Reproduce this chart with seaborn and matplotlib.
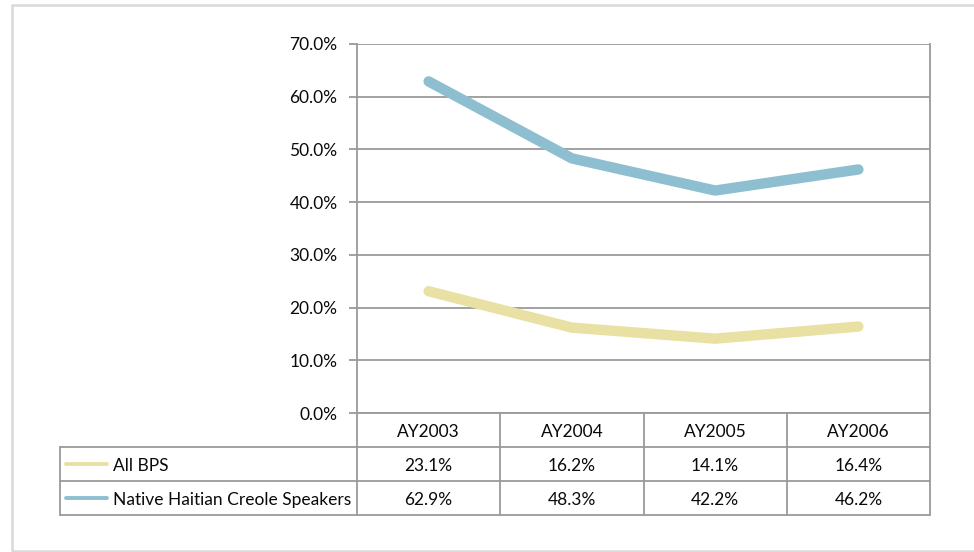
import seaborn as sns
import matplotlib.pyplot as plt
import pandas as pd
from matplotlib.patches import Rectangle

# data
years = ["AY2003", "AY2004", "AY2005", "AY2006"]
all_bps = [23.1, 16.2, 14.1, 16.4]
haitian = [62.9, 48.3, 42.2, 46.2]
series_names = ["All BPS", "Native Haitian Creole Speakers"]
series_colors = ["#E9E1A3", "#8EBFD0"]
y_ticks = [0, 10, 20, 30, 40, 50, 60, 70]

df = pd.DataFrame({
    "year": years * 2,
    "pos": list(range(len(years))) * 2,
    "value": all_bps + haitian,
    "series": [series_names[0]] * 4 + [series_names[1]] * 4,
})

sns.set_theme(style="white")
plt.rcParams['font.family'] = ['Lato', 'DejaVu Sans']
fs = 12.5
txt_c = "#0A0A0A"

W, H = 974, 552
fig = plt.figure(figsize=(W / 100, H / 100), dpi=100)
grid_c = "#9A9A9A"

# outer frame
fig.add_artist(Rectangle((12 / W, 1 - 551 / H), 1.0, (551 - 5) / H,
                         transform=fig.transFigure, fill=False,
                         edgecolor="#D9D9D9", linewidth=1.8))

# main plot area
x0, x1, ytop, ybot = 357, 930, 44, 413
ax = fig.add_axes([x0 / W, 1 - ybot / H, (x1 - x0) / W, (ybot - ytop) / H])
sns.lineplot(data=df, x="pos", y="value", hue="series", palette=series_colors,
             linewidth=7.5, legend=False, ax=ax, solid_capstyle="round")
ax.set_xlim(-0.5, len(years) - 0.5)
ax.set_ylim(0, 70)
ax.set_yticks(y_ticks)
ax.set_yticklabels([f"{t:.1f}%" for t in y_ticks], fontsize=fs)
ax.set_xticks([])
ax.set_xlabel("")
ax.set_ylabel("")
ax.grid(axis="y", color=grid_c, linewidth=1.3)
ax.set_axisbelow(True)
for s in ["left", "right", "bottom", "top"]:
    ax.spines[s].set_visible(s in ("left", "right", "bottom"))
    ax.spines[s].set_color(grid_c)
    ax.spines[s].set_linewidth(1.3)
ax.tick_params(axis="y", left=True, length=6, width=1.3, color=grid_c, pad=8,
               labelcolor=txt_c)

# data table below the plot
tx0, tbot = 60, 515
col_w = (x1 - x0) / len(years)
label_w = (x0 - tx0) / col_w
tab = fig.add_axes([tx0 / W, 1 - tbot / H, (x1 - tx0) / W, (tbot - ybot) / H])
tab.set_xlim(-0.5 - label_w, len(years) - 0.5)
tab.set_ylim(3, 0)
tab.axis("off")
lw = 1.3
left_edge = -0.5 - label_w
right_edge = len(years) - 0.5
# horizontal lines
for yy in [1, 2, 3]:
    tab.plot([left_edge, right_edge], [yy, yy], color=grid_c, lw=lw, clip_on=False)
# vertical lines
tab.plot([left_edge, left_edge], [1, 3], color=grid_c, lw=lw, clip_on=False)
for i in range(len(years) + 1):
    tab.plot([i - 0.5, i - 0.5], [0, 3], color=grid_c, lw=lw, clip_on=False)

for i, yr in enumerate(years):
    tab.text(i, 0.55, yr, ha="center", va="center", fontsize=fs, color=txt_c)
rows = [all_bps, haitian]
for r, (name, vals, c) in enumerate(zip(series_names, rows, series_colors)):
    yy = r + 1.55
    tab.plot([left_edge + 0.04, left_edge + 0.33], [yy - 0.05, yy - 0.05], color=c, lw=2.8,
             solid_capstyle="round")
    tab.text(left_edge + 0.37, yy, name, ha="left", va="center", fontsize=fs, color=txt_c)
    for i, v in enumerate(vals):
        tab.text(i, yy, f"{v:.1f}%", ha="center", va="center", fontsize=fs, color=txt_c)

fig.savefig("out.png", dpi=100, facecolor="white")
